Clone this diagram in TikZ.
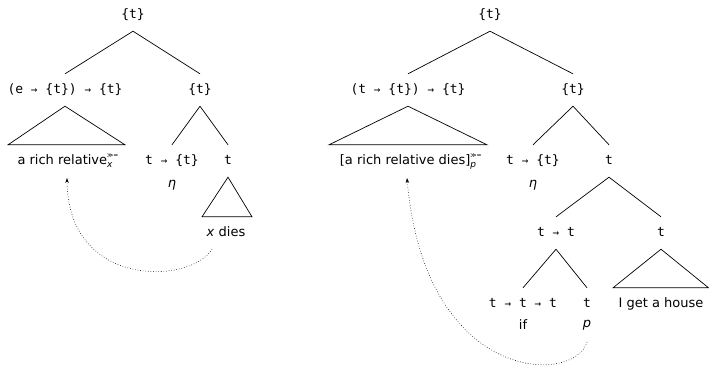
\documentclass[tikz,border=0pt]{standalone}
\usepackage{fontspec}
\setmainfont{DejaVu Sans}
\setmonofont{DejaVu Sans Mono}
\usetikzlibrary{arrows.meta}
\newcommand{\ty}[1]{{\ttfamily #1}}
\newcommand{\ar}{{\ttfamily\fontsize{11}{12}\selectfont →}}
\newcommand{\bindsup}[1]{\makebox[0pt][l]{\raisebox{7pt}{\fontsize{6}{7}\selectfont ≫=}}\raisebox{-3pt}{\fontsize{9}{10}\selectfont\itshape #1}\hspace{3pt}}
\begin{document}
\begin{tikzpicture}[x=1pt,y=-1pt,
  font=\fontsize{13}{15}\selectfont,
  tn/.style={inner xsep=0pt,inner ysep=10pt,text height=9.5pt,text depth=2.5pt},
  lab/.style={inner sep=1pt,font=\fontsize{13}{15}\selectfont\itshape},
  br/.style={line width=0.7pt},
  mv/.style={dotted,line width=0.6pt,-{Stealth[length=5pt,width=3.5pt]}}]
\useasboundingbox (0,0) rectangle (709,368);
% left tree
\node[tn] (Lroot) at (133,15) {\ty{\{t\}}};
\node[tn] (Lq) at (65,90) {\ty{(e \ar{} \{t\}) \ar{} \{t\}}};
\node[tn] (Lr) at (200,90) {\ty{\{t\}}};
\node[tn] (Lleaf) at (65,161) {a rich relative\bindsup{x}};
\node[tn] (Lf) at (172,161) {\ty{t \ar{} \{t\}}};
\node[tn] (Lt) at (228,161) {\ty{t}};
\node[lab] (Leta) at (172,185) {η};
\node[tn] (Lxd) at (226,233) {\textit{x} dies};
\draw[br] (Lroot.south) -- (Lq.north);
\draw[br] (Lroot.south) -- (Lr.north);
\draw[br] (Lq.south) -- ([xshift=-57pt]Lq.south |- Lleaf.north) -- ([xshift=60pt]Lq.south |- Lleaf.north) -- cycle;
\draw[br] (Lr.south) -- (Lf.north);
\draw[br] (Lr.south) -- (Lt.north);
\draw[br] (Lt.south) -- ([xshift=-26pt]Lt.south |- Lxd.north) -- ([xshift=24pt]Lt.south |- Lxd.north) -- cycle;
\coordinate (La) at (212,249);
\coordinate (Lb) at (67,178);
\draw[mv] (La) .. controls (192,284) and (68,290) .. (Lb);
% right tree
\node[tn] (Rroot) at (490,15) {\ty{\{t\}}};
\node[tn] (Rq) at (408,90) {\ty{(t \ar{} \{t\}) \ar{} \{t\}}};
\node[tn] (Rr) at (573,90) {\ty{\{t\}}};
\node[tn] (Rleaf) at (408,161) {[a rich relative dies]\bindsup{p}};
\node[tn] (Rf) at (533,161) {\ty{t \ar{} \{t\}}};
\node[tn] (Rt) at (609,161) {\ty{t}};
\node[lab] (Reta) at (533,185) {η};
\node[tn] (Rtt) at (556,233) {\ty{t \ar{} t}};
\node[tn] (Rt2) at (661,233) {\ty{t}};
\node[tn] (Rttt) at (523,304) {\ty{t \ar{} t \ar{} t}};
\node[tn] (Rp) at (587,304) {\ty{t}};
\node[lab,font=\fontsize{13}{15}\selectfont] (Rif) at (523,325) {if};
\node[lab] (Rpp) at (587,325) {p};
\node[tn] (Rhouse) at (661,304) {I get a house};
\draw[br] (Rroot.south) -- (Rq.north);
\draw[br] (Rroot.south) -- (Rr.north);
\draw[br] (Rq.south) -- ([xshift=-79pt]Rq.south |- Rleaf.north) -- ([xshift=79pt]Rq.south |- Rleaf.north) -- cycle;
\draw[br] (Rr.south) -- (Rf.north);
\draw[br] (Rr.south) -- (Rt.north);
\draw[br] (Rt.south) -- (Rtt.north);
\draw[br] (Rt.south) -- (Rt2.north);
\draw[br] (Rtt.south) -- (Rttt.north);
\draw[br] (Rtt.south) -- (Rp.north);
\draw[br] (Rt2.south) -- ([xshift=-48pt]Rt2.south |- Rhouse.north) -- ([xshift=47.5pt]Rt2.south |- Rhouse.north) -- cycle;
\coordinate (Ra) at (587,342);
\coordinate (Rb) at (407,178);
\draw[mv] (Ra) .. controls (575,385) and (425,385) .. (Rb);
\end{tikzpicture}
\end{document}
